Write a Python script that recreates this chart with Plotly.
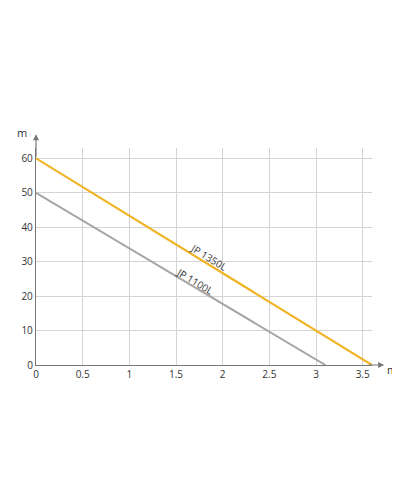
import plotly.graph_objects as go

flow_1350 = [0, 3.6]
head_1350 = [60, 0]
flow_1100 = [0, 3.1]
head_1100 = [50, 0]
x_ticks = [0, 0.5, 1, 1.5, 2, 2.5, 3, 3.5]
x_labels = ["0", "0.5", "1", "1.5", "2", "2.5", "3", "3.5"]
y_ticks = [0, 10, 20, 30, 40, 50, 60]

ORANGE = "#f0b323"
GRAY = "#a6a6a6"
AXIS = "#777777"

fig = go.Figure()
fig.add_trace(go.Scatter(x=flow_1100, y=head_1100, mode="lines",
                         line=dict(color=GRAY, width=2), hoverinfo="skip", cliponaxis=False))
fig.add_trace(go.Scatter(x=flow_1350, y=head_1350, mode="lines",
                         line=dict(color=ORANGE, width=2.2), hoverinfo="skip", cliponaxis=False))

# curve labels
fig.add_annotation(x=1.85, y=31.5, text="JP 1350L", showarrow=False, textangle=31.6,
                   font=dict(size=10, color="#333333"))
fig.add_annotation(x=1.7, y=24.5, text="JP 1100L", showarrow=False, textangle=30.8,
                   font=dict(size=10, color="#333333"))

# axis arrows and units
fig.add_annotation(x=3.73, y=0, ax=3.55, ay=0, axref="x", ayref="y", xref="x", yref="y",
                   showarrow=True, arrowhead=2, arrowsize=1, arrowwidth=1.2, arrowcolor=AXIS, text="")
fig.add_annotation(x=0, y=67, ax=0, ay=60, axref="x", ayref="y", xref="x", yref="y",
                   showarrow=True, arrowhead=2, arrowsize=1, arrowwidth=1.2, arrowcolor=AXIS, text="")
fig.add_annotation(x=1.04, y=-0.02, xref="paper", yref="paper", text="m³/h", showarrow=False,
                   xanchor="left", yanchor="middle", font=dict(size=11, color="#333333"))
fig.add_annotation(x=-0.02, y=1.07, xref="paper", yref="paper", text="m", showarrow=False,
                   xanchor="right", yanchor="middle", font=dict(size=11, color="#333333"))

fig.update_xaxes(range=[0, 3.6], tickvals=x_ticks, ticktext=x_labels, automargin=False,
                 showgrid=True, gridcolor="#d4d4d4", gridwidth=1.3,
                 showline=True, linecolor=AXIS, linewidth=1.3, zeroline=False,
                 ticks="", tickfont=dict(size=10, color="#333333"))
fig.update_yaxes(range=[0, 63], tickvals=y_ticks, automargin=False,
                 showgrid=True, gridcolor="#d4d4d4", gridwidth=1.3,
                 showline=True, linecolor=AXIS, linewidth=1.3, zeroline=False,
                 ticks="", tickfont=dict(size=10, color="#333333"))

fig.update_layout(width=400, height=500, showlegend=False,
                  margin=dict(l=28, r=36, t=140, b=143),
                  plot_bgcolor="white", paper_bgcolor="white",
                  font=dict(family="Open Sans"))

fig.write_html("out.html")
